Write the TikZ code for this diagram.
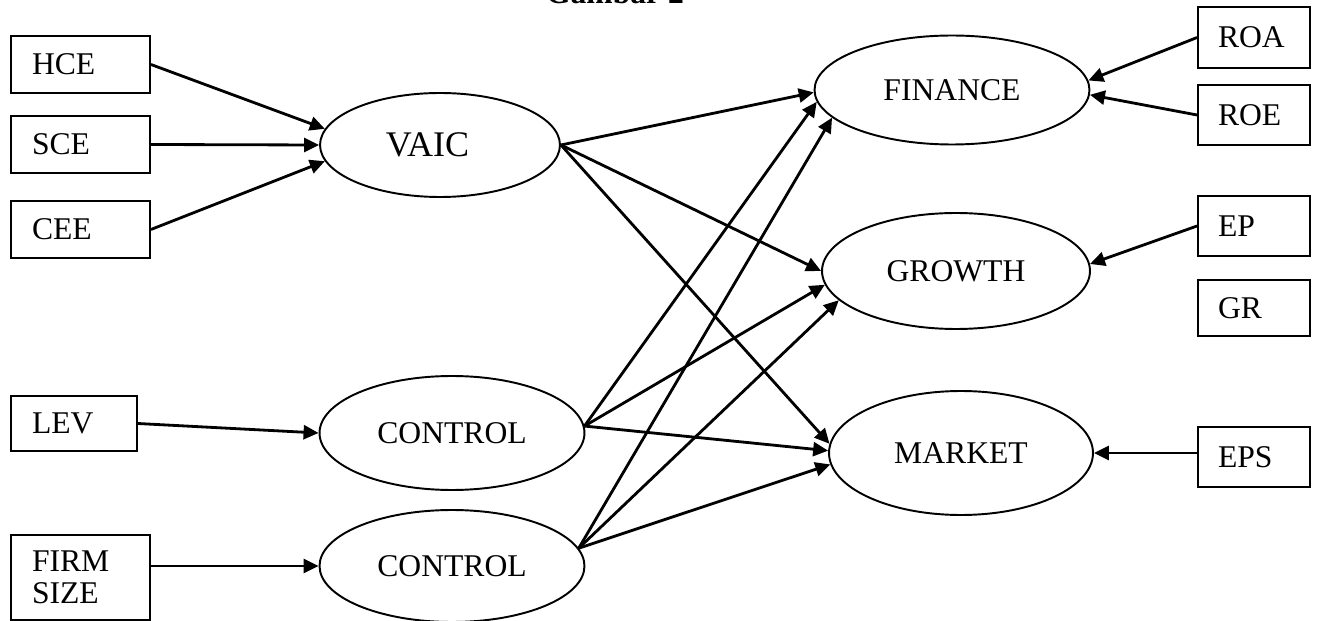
\documentclass[tikz,border=0pt]{standalone}
\usepackage{fontspec}
\setmainfont{Liberation Serif}
\usetikzlibrary{arrows.meta,shapes.geometric}

\begin{document}
\begin{tikzpicture}[
  x=0.02cm, y=-0.02cm,
  box/.style={rectangle, draw, line width=1.1pt, align=left, inner xsep=0.42cm, text width=1.94cm, minimum height=1.14cm, font=\fontsize{18}{18.5}\selectfont},
  construct/.style={ellipse, draw, line width=1.1pt, inner sep=0pt, font=\fontsize{18}{20}\selectfont},
  arrow/.style={-{Triangle[length=3mm,width=2.8mm]}, line width=1.6pt}
]
  \useasboundingbox (0,0) rectangle (1318,621);

  % Title (cut off at the top)
  \node[anchor=base, font=\fontsize{18}{20}\selectfont\bfseries] (title) at (615,4) {Gambar 2};

  % Indicators, left
  \node[box] (hce) at (80.5,64.5) {HCE};
  \node[box] (sce) at (80.5,144.5) {SCE};
  \node[box] (cee) at (80.5,229.5) {CEE};
  \node[box, text width=1.68cm, minimum height=1.1cm] (lev) at (74,423.5) {LEV};
  \node[box, minimum height=1.7cm] (firm) at (80.5,577.5) {FIRM\\SIZE};

  % Indicators, right
  \node[box, inner xsep=0.4cm, text width=1.44cm, minimum height=1.22cm] (roa) at (1254,37.5) {ROA};
  \node[box, inner xsep=0.4cm, text width=1.44cm, minimum height=1.2cm] (roe) at (1254,115) {ROE};
  \node[box, inner xsep=0.4cm, text width=1.44cm, minimum height=1.2cm] (ep) at (1254,226) {EP};
  \node[box, inner xsep=0.4cm, text width=1.44cm, minimum height=1.12cm] (gr) at (1254,308) {GR};
  \node[box, inner xsep=0.4cm, text width=1.44cm, minimum height=1.2cm] (eps) at (1254,457) {EPS};

  % Constructs
  \node[construct, minimum width=4.8cm, minimum height=2.08cm, font=\fontsize{20.5}{22}\selectfont] (vaic) at (440,145) {\hspace*{-0.5cm}VAIC};
  \node[construct, minimum width=5.3cm, minimum height=2.28cm] (ctrl1) at (452,433) {CONTROL};
  \node[construct, minimum width=5.3cm, minimum height=2.24cm] (ctrl2) at (452,566) {CONTROL};
  \node[construct, minimum width=5.5cm, minimum height=2.18cm] (finance) at (952,90) {FINANCE};
  \node[construct, minimum width=5.36cm, minimum height=2.32cm] (growth) at (956,271) {GROWTH};
  \node[construct, minimum width=5.28cm, minimum height=2.48cm] (market) at (961,453) {MARKET};

  % Indicators -> constructs
  \draw[arrow] (hce.east) -- (vaic.172);
  \draw[arrow] (sce.east) -- (vaic.west);
  \draw[arrow] (cee.east) -- (vaic.188);
  \draw[arrow] (lev.east) -- (ctrl1.west);
  \draw[arrow] (firm.east |- ctrl2.west) -- (ctrl2.west);

  \draw[arrow] (roa.west) -- (finance.4);
  \draw[arrow] (roe.west) -- (finance.358);
  \draw[arrow] (ep.west) -- (growth.3);
  \draw[arrow] (eps.west |- market.east) -- (market.east);

  % Paths
  \draw[arrow] (vaic.east) -- (finance.181);
  \draw[arrow] (vaic.east) -- (growth.west);
  \draw[arrow] (vaic.east) -- (market.176);
  \draw[arrow] (ctrl1.3) -- (finance.185);
  \draw[arrow] (ctrl1.3) -- (growth.186);
  \draw[arrow] (ctrl1.3) -- (market.179);
  \draw[arrow] (ctrl2.8) -- (finance.193);
  \draw[arrow] (ctrl2.8) -- (growth.194);
  \draw[arrow] (ctrl2.8) -- (market.185);
\end{tikzpicture}
\end{document}
